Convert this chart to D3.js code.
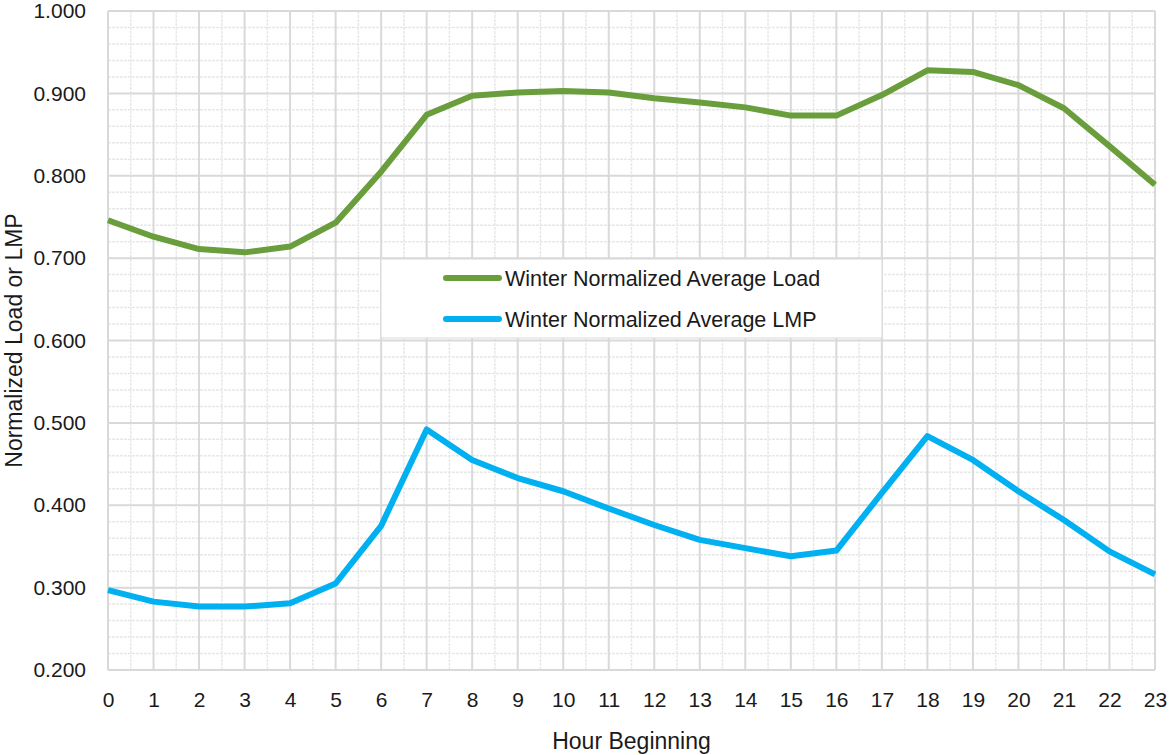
<!DOCTYPE html>
<html>
<head>
    <title>Winter Normalized Load and LMP</title>
    <script src="https://d3js.org/d3.v7.min.js"></script>
    <style>
        body { margin: 0; background: #fff; }
        text { font-family: "Liberation Sans", Arial, sans-serif; fill: #1a1a1a; }
    </style>
</head>
<body>
    <svg id="chart"></svg>
    <script>
        // hours along the x axis
        const hours = d3.range(0, 24);
        // series
        const loadValues = [0.746, 0.726, 0.711, 0.707, 0.714, 0.743, 0.805, 0.874, 0.897, 0.901, 0.903, 0.901,
            0.894, 0.889, 0.883, 0.873, 0.873, 0.898, 0.928, 0.926, 0.910, 0.882, 0.836, 0.789];
        const lmpValues = [0.297, 0.283, 0.277, 0.277, 0.281, 0.305, 0.375, 0.492, 0.455, 0.433, 0.417, 0.396,
            0.376, 0.358, 0.348, 0.338, 0.345, 0.415, 0.484, 0.455, 0.417, 0.382, 0.344, 0.316];
        const yTicks = [0.2, 0.3, 0.4, 0.5, 0.6, 0.7, 0.8, 0.9, 1.0];
        const seriesNames = ["Winter Normalized Average Load", "Winter Normalized Average LMP"];
        const seriesColors = ["#6a9e3c", "#00b0f0"];

        const width = 1172, height = 755;
        const svg = d3.select('#chart')
            .attr('width', width)
            .attr('height', height);

        const x = d3.scaleLinear().domain([0, 23]).range([108, 1155]);
        const y = d3.scaleLinear().domain([0.2, 1.0]).range([670, 11]);

        // minor grid (half hours, 0.02 steps)
        const grid = svg.append('g');
        grid.selectAll('.minorx')
            .data(d3.range(0.5, 23, 1))
            .join('line')
            .attr('x1', d => x(d)).attr('x2', d => x(d))
            .attr('y1', y(1.0)).attr('y2', y(0.2))
            .attr('stroke', '#e8e8e8')
            .attr('stroke-width', 1.5)
            .attr('stroke-dasharray', '3,1');
        grid.selectAll('.minory')
            .data(d3.range(0.22, 1.0, 0.02).filter(v => Math.round(v * 100) % 10 !== 0))
            .join('line')
            .attr('x1', x(0)).attr('x2', x(23))
            .attr('y1', d => y(d)).attr('y2', d => y(d))
            .attr('stroke', '#e8e8e8')
            .attr('stroke-width', 1.5)
            .attr('stroke-dasharray', '3,1');

        // major grid
        grid.selectAll('.majorx')
            .data(hours)
            .join('line')
            .attr('x1', d => x(d)).attr('x2', d => x(d))
            .attr('y1', y(1.0)).attr('y2', y(0.2))
            .attr('stroke', '#d9d9d9')
            .attr('stroke-width', 2);
        grid.selectAll('.majory')
            .data(yTicks)
            .join('line')
            .attr('x1', x(0)).attr('x2', x(23))
            .attr('y1', d => y(d)).attr('y2', d => y(d))
            .attr('stroke', '#d9d9d9')
            .attr('stroke-width', 2);

        // axes (labels only)
        const yAxis = svg.append('g')
            .attr('transform', 'translate(' + (x(0) - 19) + ',0)')
            .call(d3.axisLeft(y).tickValues(yTicks).tickFormat(d3.format('.3f')).tickSize(0));
        yAxis.select('.domain').remove();
        yAxis.selectAll('text')
            .attr('font-size', '21px')
            .style('font-family', '"Liberation Sans", Arial, sans-serif')
            .attr('fill', '#1a1a1a');

        const xAxis = svg.append('g')
            .attr('transform', 'translate(0,' + (y(0.2) + 19) + ')')
            .call(d3.axisBottom(x).tickValues(hours).tickFormat(d3.format('d')).tickSize(0));
        xAxis.select('.domain').remove();
        xAxis.selectAll('text')
            .attr('font-size', '21px')
            .style('font-family', '"Liberation Sans", Arial, sans-serif')
            .attr('fill', '#1a1a1a');

        // lines
        const line = d3.line()
            .x((d, i) => x(hours[i]))
            .y(d => y(d));

        [loadValues, lmpValues].forEach((vals, k) => {
            svg.append('path')
                .datum(vals)
                .attr('d', line)
                .attr('fill', 'none')
                .attr('stroke', seriesColors[k])
                .attr('stroke-width', 6)
                .attr('stroke-linejoin', 'round');
        });

        // legend
        const legend = svg.append('g');
        legend.append('rect')
            .attr('x', 381).attr('y', 259)
            .attr('width', 501).attr('height', 79)
            .attr('fill', '#fff')
            .attr('stroke', '#d9d9d9')
            .attr('stroke-width', 1);
        seriesNames.forEach((name, k) => {
            const ly = 278 + k * 41;
            legend.append('line')
                .attr('x1', 446).attr('x2', 499)
                .attr('y1', ly).attr('y2', ly)
                .attr('stroke', seriesColors[k])
                .attr('stroke-width', 6)
                .attr('stroke-linecap', 'round');
            legend.append('text')
                .attr('x', 505).attr('y', ly)
                .attr('dy', '0.35em')
                .attr('font-size', '21.5px')
                .text(name);
        });

        // axis titles
        svg.append('text')
            .attr('x', (x(0) + x(23)) / 2)
            .attr('y', 749)
            .attr('text-anchor', 'middle')
            .attr('font-size', '23px')
            .text('Hour Beginning');

        svg.append('text')
            .attr('transform', 'translate(22,' + (y(0.6)) + ') rotate(-90)')
            .attr('text-anchor', 'middle')
            .attr('font-size', '23px')
            .text('Normalized Load or LMP');
    </script>
</body>
</html>
